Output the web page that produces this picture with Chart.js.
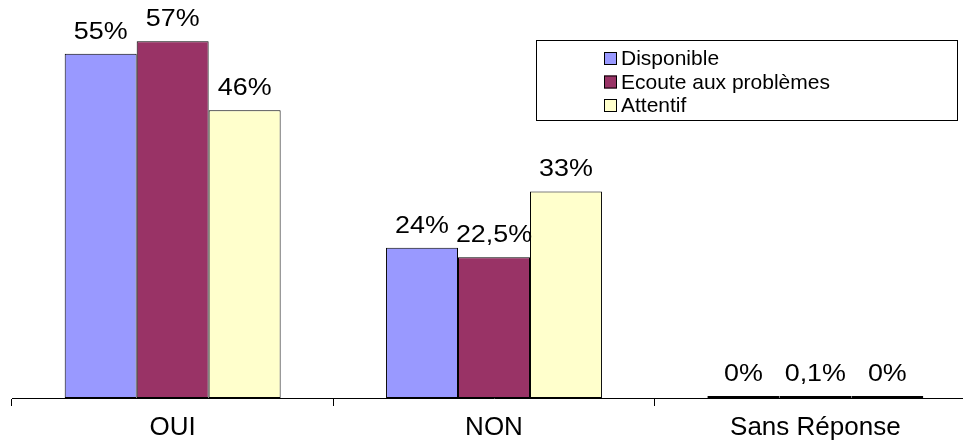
<!DOCTYPE html>
<html>
<head>
<meta charset="utf-8">
<script src="https://cdn.jsdelivr.net/npm/chart.js@4"></script>
<style>
  html, body { margin: 0; padding: 0; background: #fff; overflow: hidden; }
  #wrap { width: 963px; height: 446px; overflow: hidden; }
  #box { width: 990px; height: 453px; }
</style>
</head>
<body>
<div id="wrap"><div id="box"><canvas id="graphe"></canvas></div></div>
<script>
var categories = ['OUI', 'NON', 'Sans Réponse'];
var seriesNames = ['Disponible', 'Ecoute aux problèmes', 'Attentif'];
var disponible = [55, 24, 0];
var ecoute = [57, 22.5, 0.1];
var attentif = [46, 33, 0];
var seriesColors = ['#9999FF', '#993366', '#FFFFCC'];

var police = '"Liberation Sans", Arial, sans-serif';

// pourcentages au-dessus des barres, virgule décimale
function formatPct(v){
    return String(v).replace('.', ',') + '%';
}

var etiquettes = {
    id: 'etiquettes',
    afterDatasetsDraw(chart){
        const ctx = chart.ctx;
        chart.data.datasets.forEach(function(ds, i){
            chart.getDatasetMeta(i).data.forEach(function(bar, j){
                ctx.save();
                ctx.translate(bar.x, bar.y - 15);
                ctx.scale(1.12, 1);   // texte un peu élargi
                ctx.font = '24px ' + police;
                ctx.fillStyle = '#000';
                ctx.textAlign = 'center';
                ctx.textBaseline = 'alphabetic';
                ctx.fillText(formatPct(ds.data[j]), 0, 0);
                ctx.restore();
            });
        });
    }
};

// légende encadrée en haut à droite
var legendeCadre = {
    id: 'legendeCadre',
    afterDraw(chart){
        const ctx = chart.ctx;
        ctx.save();
        ctx.strokeStyle = '#000';
        ctx.lineWidth = 1;
        ctx.strokeRect(536.5, 40.5, 421, 80);
        ctx.font = '21px ' + police;
        ctx.textBaseline = 'alphabetic';
        chart.data.datasets.forEach(function(ds, i){
            var y = 52 + i * 23.5;
            ctx.fillStyle = ds.backgroundColor;
            ctx.fillRect(604, y, 13, 13);
            ctx.strokeRect(604.5, y + 0.5, 12, 12);
            ctx.fillStyle = '#000';
            ctx.fillText(ds.label, 621, y + 13);
        });
        ctx.restore();
    }
};

var series = [disponible, ecoute, attentif];

new Chart(document.getElementById('graphe'), {
    type: 'bar',
    data: {
        labels: categories,
        datasets: series.map(function(vals, i){
            return {
                label: seriesNames[i],
                data: vals,
                backgroundColor: seriesColors[i],
                borderColor: '#000',
                borderWidth: 1,
                borderSkipped: false,
                minBarLength: 2,
                categoryPercentage: 0.672,
                barPercentage: 1.0
            };
        })
    },
    options: {
        responsive: true,
        maintainAspectRatio: false,
        animation: false,
        layout: { padding: { left: 12, right: 14, top: 10, bottom: 3 } },
        plugins: {
            legend: { display: false },
            tooltip: { enabled: false }
        },
        scales: {
            x: {
                grid: {
                    display: true,
                    drawOnChartArea: false,
                    drawTicks: true,
                    tickLength: 8,
                    color: '#000'
                },
                border: { display: true, color: '#000', width: 1 },
                ticks: {
                    color: '#000',
                    padding: 9,
                    font: { family: police, size: 26, lineHeight: 1 }
                }
            },
            y: {
                display: false,
                min: 0,
                max: 62
            }
        }
    },
    plugins: [etiquettes, legendeCadre]
});
</script>
</body>
</html>
